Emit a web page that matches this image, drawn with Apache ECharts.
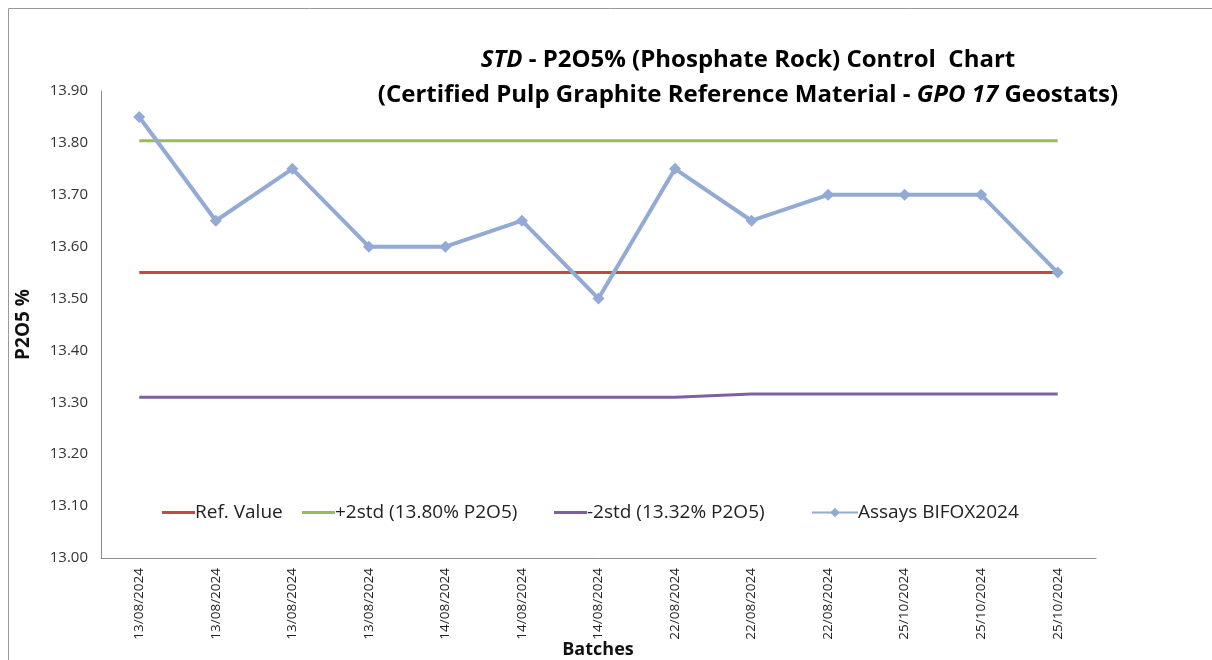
<!DOCTYPE html>
<html>
<head>
    <meta charset="UTF-8"/>
    <script src="https://cdn.jsdelivr.net/npm/echarts@6/dist/echarts.min.js"></script>
    <title>P2O5 Control Chart</title>
    <style>
        body { margin: 0; background: #fff; }
        #main { width: 1212px; height: 660px; }
    </style>
</head>
<body>
<div id="main"></div>
<script type="text/javascript">
    // batches (x axis)
    var batches = ['13/08/2024', '13/08/2024', '13/08/2024', '13/08/2024', '14/08/2024', '14/08/2024',
        '14/08/2024', '22/08/2024', '22/08/2024', '22/08/2024', '25/10/2024', '25/10/2024', '25/10/2024'];
    // assay results
    var assays = [13.85, 13.65, 13.75, 13.60, 13.60, 13.65, 13.50, 13.75, 13.65, 13.70, 13.70, 13.70, 13.55];
    var refValue = [13.55, 13.55, 13.55, 13.55, 13.55, 13.55, 13.55, 13.55, 13.55, 13.55, 13.55, 13.55, 13.55];
    var plus2std = [13.804, 13.804, 13.804, 13.804, 13.804, 13.804, 13.804, 13.804, 13.804, 13.804, 13.804, 13.804, 13.804];
    var minus2std = [13.31, 13.31, 13.31, 13.31, 13.31, 13.31, 13.31, 13.31, 13.316, 13.316, 13.316, 13.316, 13.316];
    var seriesNames = ['Ref. Value', '+2std (13.80% P2O5)', '-2std (13.32% P2O5)', 'Assays BIFOX2024'];

    var font = 'Open Sans';
    var myChart = echarts.init(document.getElementById('main'));

    // one legend per entry so the plain lines get a flat icon and the assays keep the diamond
    function legendItem(name, left, isLine) {
        return {
            left: left,
            top: 498,
            data: [isLine ? {name: name, icon: 'rect'} : name],
            itemWidth: isLine ? 33 : 46,
            itemHeight: isLine ? 3 : 12,
            textStyle: {fontFamily: font, fontSize: 19, color: '#222', padding: [0, 0, 0, -5]}
        };
    }

    var option = {
        backgroundColor: '#fff',
        animation: false,
        textStyle: {fontFamily: font},
        graphic: [{
            type: 'rect',
            shape: {x: 8.5, y: 8.5, width: 1300, height: 800},
            style: {fill: 'none', stroke: '#999', lineWidth: 1}
        }, {
            // x axis title, placed by hand so it is not pushed below the rotated labels
            type: 'text',
            x: 598,
            y: 650,
            style: {
                text: 'Batches', fontFamily: font, fontSize: 18, fontWeight: 'bold', fill: '#111',
                align: 'center', verticalAlign: 'middle'
            }
        }],
        title: {
            left: 743,
            top: 38,
            textAlign: 'center',
            text: '{i|STD}{n| - P2O5% (Phosphate Rock) Control  Chart}\n{n|(Certified Pulp Graphite Reference Material - }{i|GPO 17}{n| Geostats)}',
            textStyle: {
                rich: {
                    n: {fontFamily: font, fontSize: 24, fontWeight: 'bold', color: '#000', lineHeight: 35},
                    i: {fontFamily: font, fontSize: 24, fontWeight: 'bold', fontStyle: 'italic', color: '#000', lineHeight: 35}
                }
            }
        },
        legend: [
            legendItem(seriesNames[0], 157, true),
            legendItem(seriesNames[1], 297, true),
            legendItem(seriesNames[2], 549, true),
            legendItem(seriesNames[3], 806, false)
        ],
        grid: {left: 101, right: 116, top: 91, bottom: 102, outerBoundsMode: 'none', containLabel: false},
        xAxis: {
            type: 'category',
            data: batches,
            boundaryGap: true,
            axisLine: {lineStyle: {color: '#8c8c8c', width: 1}},
            axisTick: {show: false},
            axisLabel: {rotate: 90, fontSize: 13.5, color: '#222', margin: 10, interval: 0}
        },
        yAxis: {
            type: 'value',
            min: 13.0,
            max: 13.9,
            interval: 0.1,
            name: 'P2O5 %',
            nameLocation: 'middle',
            nameGap: 68,
            nameRotate: 90,
            nameTextStyle: {fontFamily: font, fontSize: 19, fontWeight: 'bold', color: '#111'},
            axisLine: {show: true, lineStyle: {color: '#8c8c8c', width: 1}},
            axisTick: {show: false},
            splitLine: {show: false},
            axisLabel: {
                fontSize: 15, color: '#333', margin: 13,
                formatter: function (v) { return v.toFixed(2); }
            }
        },
        series: [
            {name: seriesNames[0], type: 'line', data: refValue, symbol: 'none',
                lineStyle: {color: '#BE4B48', width: 3}, itemStyle: {color: '#BE4B48'}},
            {name: seriesNames[1], type: 'line', data: plus2std, symbol: 'none',
                lineStyle: {color: '#9BBB59', width: 3}, itemStyle: {color: '#9BBB59'}},
            {name: seriesNames[2], type: 'line', data: minus2std, symbol: 'none',
                lineStyle: {color: '#7D60A0', width: 3}, itemStyle: {color: '#7D60A0'}},
            {name: seriesNames[3], type: 'line', data: assays, symbol: 'diamond', symbolSize: 12,
                lineStyle: {color: '#93AAD5', width: 4}, itemStyle: {color: '#93AAD5'}}
        ]
    };
    myChart.setOption(option);
</script>
</body>
</html>
